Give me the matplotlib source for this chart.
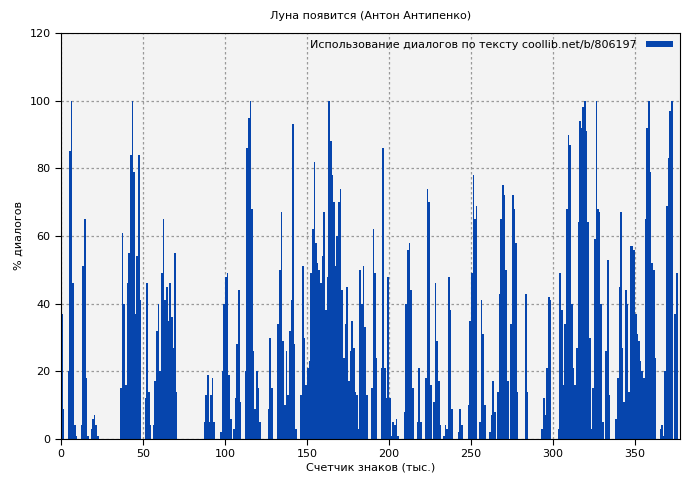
import matplotlib
matplotlib.use("Agg")
import matplotlib.pyplot as plt
import numpy as np

values = [
37,9,0,0,20,85,100,46,4,1,
0,0,4,51,65,18,1,0,3,6,
7,4,1,0,0,0,0,0,0,0,
0,0,0,0,0,0,15,61,40,16,
46,55,84,100,79,37,54,84,41,0,
0,12,46,14,4,0,4,17,32,40,
20,49,65,41,45,35,46,36,27,55,
14,0,0,0,0,0,0,0,0,0,
0,0,0,0,0,0,0,5,13,19,
5,13,18,5,0,0,0,2,20,40,
48,49,19,6,0,3,12,28,44,11,
0,0,20,86,95,100,68,26,9,20,
15,5,0,0,0,0,9,30,15,0,
0,0,34,50,67,29,10,26,13,32,
41,93,28,3,0,0,13,51,30,16,
21,23,49,62,82,58,52,50,46,54,
67,38,48,100,88,78,70,51,60,70,
74,44,24,34,45,17,26,35,27,14,
13,3,50,40,51,33,13,0,0,15,
62,49,24,0,0,21,86,21,12,48,
12,1,5,4,6,1,0,0,0,8,
40,56,58,44,15,0,0,5,21,5,
0,0,18,74,70,16,0,11,46,29,
17,4,0,1,4,3,48,38,9,0,
0,0,2,9,4,0,0,0,10,35,
49,78,65,69,0,5,41,31,10,0,
0,2,7,17,8,0,14,43,65,75,
72,50,17,0,34,72,68,58,14,0,
0,0,0,43,14,0,0,0,0,0,
0,0,0,3,12,7,21,42,41,0,
0,0,0,3,49,38,16,34,68,90,
87,40,21,16,27,64,94,92,98,100,
91,64,30,3,15,59,100,68,67,40,
5,0,26,53,13,0,0,0,6,18,
45,67,27,11,44,40,14,57,57,56,
37,31,29,23,20,18,65,92,100,79,
52,50,24,0,0,3,4,1,20,69,
83,97,100,0,37,49,0,0,
]
positions = np.arange(len(values))
title = "Луна появится (Антон Антипенко)"
legend_label = "Использование диалогов по тексту coollib.net/b/806197"
xticks = [0, 50, 100, 150, 200, 250, 300, 350]
yticks = [0, 20, 40, 60, 80, 100, 120]

plt.rcParams['font.family'] = ['DejaVu Sans']
plt.rcParams['font.size'] = 8
fig = plt.figure(figsize=(7, 4.8), dpi=100)
ax = fig.add_axes([61/700, 41/480, 619/700, 406/480])
ax.set_facecolor('#f3f3f3')
color = '#0645ad'
ax.bar(positions, values, width=1.0, align='edge', color=color, linewidth=0, label=legend_label)
ax.set_xlim(0, 377.5)
ax.set_ylim(0, 120)
ax.set_xticks(xticks)
ax.set_yticks(yticks)
ax.grid(True, color='#999999', linestyle=(0, (2, 2)), linewidth=0.9)
ax.set_axisbelow(True)
ax.set_title(title, fontsize=8, pad=10)
ax.set_xlabel("Счетчик знаков (тыс.)", fontsize=8, labelpad=2)
ax.set_ylabel("% диалогов", fontsize=8)
ax.tick_params(direction='out', length=4)
leg = ax.legend(loc='upper right', frameon=False, fontsize=8, markerfirst=False,
                handlelength=2.5, handleheight=0.4, borderaxespad=0.2)
fig.savefig("out.png")
